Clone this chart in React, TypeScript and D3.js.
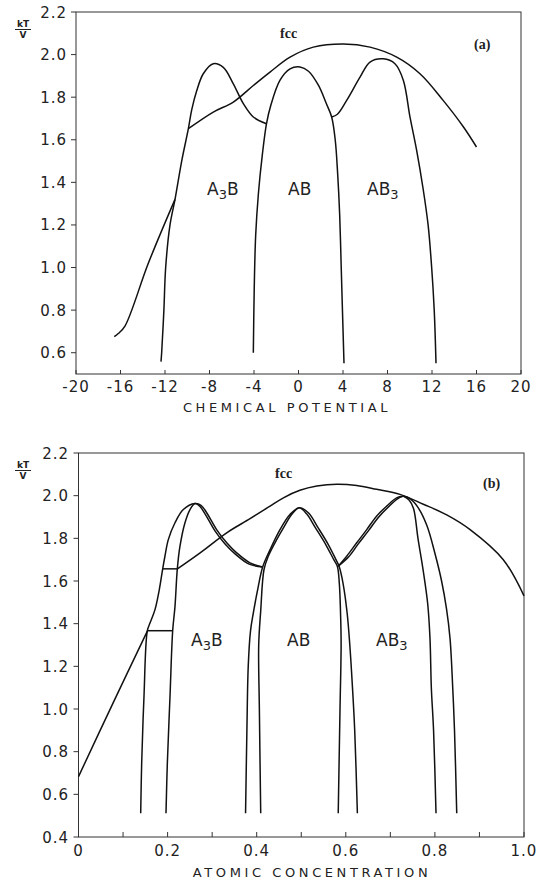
import React from 'react'
import * as d3 from 'd3'

// panel (a): kT/V against chemical potential
const muTicks = [-20, -16, -12, -8, -4, 0, 4, 8, 12, 16, 20]
const tTicksA = [0.6, 0.8, 1.0, 1.2, 1.4, 1.6, 1.8, 2.0, 2.2]

const fccLowA = [[-16.56, 0.675], [-16.2, 0.69], [-15.6, 0.725], [-13.5, 1.02], [-11.1, 1.32]]
const a3bA = [[-12.36, 0.558], [-12.3, 0.6], [-12.1, 0.8], [-11.94, 1.0], [-11.55, 1.2], [-11.1, 1.32],
  [-10.5, 1.5], [-9.9, 1.652], [-9.6, 1.74], [-9.15, 1.83], [-8.56, 1.91], [-7.66, 1.957], [-6.76, 1.94],
  [-5.86, 1.863], [-4.96, 1.77], [-4.06, 1.707], [-2.88, 1.675]]
const abA = [[-4.06, 0.6], [-3.98, 0.9], [-3.85, 1.15], [-3.6, 1.35], [-3.25, 1.53], [-2.88, 1.675],
  [-2.5, 1.76], [-1.66, 1.88], [-0.76, 1.933], [0.13, 1.942], [0.9, 1.922], [1.8, 1.855], [2.5, 1.77],
  [2.98, 1.707], [3.3, 1.6], [3.52, 1.44], [3.7, 1.25], [3.84, 1.0], [3.95, 0.8], [4.09, 0.55]]
const ab3A = [[2.98, 1.707], [3.5, 1.72], [4.33, 1.785], [5.53, 1.894], [6.43, 1.965], [7.62, 1.98],
  [8.67, 1.957], [9.42, 1.88], [10.02, 1.707], [10.62, 1.55], [11.2, 1.37], [11.65, 1.2],
  [11.97, 1.0], [12.2, 0.8], [12.36, 0.55]]
const fccTopA = [[-9.9, 1.652], [-7.66, 1.73], [-5.86, 1.777], [-4.06, 1.855], [-2.56, 1.918],
  [-0.76, 1.988], [1.33, 2.035], [4.03, 2.05], [6.43, 2.035], [8.83, 1.988], [10.92, 1.91],
  [13.0, 1.785], [14.83, 1.66], [16.0, 1.566]]

// panel (b): kT/V against atomic concentration
const cTicks = [0, 0.2, 0.4, 0.6, 0.8, 1.0]
const cMinor = [0.1, 0.3, 0.5, 0.7, 0.9]
const tTicksB = [0.4, 0.6, 0.8, 1.0, 1.2, 1.4, 1.6, 1.8, 2.0, 2.2]

const fccLowB = [[0, 0.683], [0.078, 1.03], [0.1545, 1.365]]
const a3bOuterB = [[0.1396, 0.511], [0.1418, 0.746], [0.147, 1.059], [0.1545, 1.367], [0.1605, 1.403],
  [0.1717, 1.466], [0.1814, 1.56], [0.189, 1.657], [0.194, 1.716], [0.2016, 1.794], [0.2166, 1.873],
  [0.2353, 1.935], [0.2615, 1.963], [0.275, 1.955], [0.2877, 1.92], [0.31, 1.841], [0.3327, 1.779],
  [0.355, 1.732], [0.385, 1.685], [0.4134, 1.666]]
const a3bInnerB = [[0.1964, 0.511], [0.1994, 0.746], [0.2054, 1.059], [0.2114, 1.367], [0.2166, 1.481],
  [0.2218, 1.657], [0.2278, 1.763], [0.239, 1.873], [0.2503, 1.935], [0.2615, 1.963], [0.272, 1.951],
  [0.284, 1.915], [0.306, 1.836], [0.329, 1.773], [0.352, 1.726], [0.383, 1.679], [0.4134, 1.666]]
const tieLow = [[0.1545, 1.367], [0.2114, 1.367]]
const tieHigh = [[0.189, 1.657], [0.2218, 1.657]]
const abOuterB = [[0.375, 0.511], [0.378, 0.9], [0.381, 1.2], [0.386, 1.364], [0.3924, 1.45],
  [0.4036, 1.575], [0.4134, 1.666], [0.43, 1.747], [0.4523, 1.841], [0.4747, 1.912], [0.4957, 1.943],
  [0.516, 1.92], [0.538, 1.849], [0.5607, 1.771], [0.578, 1.7], [0.585, 1.669], [0.594, 1.587],
  [0.603, 1.45], [0.609, 1.3], [0.615, 1.1], [0.62, 0.9], [0.626, 0.511]]
const abInnerB = [[0.409, 0.511], [0.406, 1.0], [0.4045, 1.3], [0.409, 1.46], [0.4164, 1.654],
  [0.426, 1.716], [0.441, 1.779], [0.46, 1.849], [0.4785, 1.912], [0.4957, 1.943], [0.512, 1.915],
  [0.532, 1.849], [0.555, 1.771], [0.573, 1.7], [0.581, 1.669], [0.5855, 1.587], [0.5886, 1.419],
  [0.5895, 1.3], [0.587, 1.0], [0.583, 0.511]]
const ab3LeftB = [[0.583, 1.669], [0.602, 1.716], [0.6245, 1.779], [0.647, 1.841], [0.669, 1.904],
  [0.6918, 1.951], [0.714, 1.99], [0.729, 1.998]]
const ab3LeftB2 = [[0.583, 1.669], [0.606, 1.712], [0.628, 1.774], [0.651, 1.836], [0.673, 1.898],
  [0.695, 1.946], [0.716, 1.985], [0.729, 1.998]]
const ab3OuterB = [[0.729, 1.998], [0.745, 1.985], [0.762, 1.945], [0.782, 1.86], [0.8, 1.73],
  [0.815, 1.6], [0.826, 1.47], [0.834, 1.33], [0.84, 1.1], [0.844, 0.9], [0.849, 0.511]]
const ab3InnerB = [[0.729, 1.998], [0.742, 1.98], [0.752, 1.94], [0.762, 1.8], [0.774, 1.645],
  [0.784, 1.49], [0.789, 1.33], [0.792, 1.1], [0.797, 0.9], [0.8025, 0.511]]
const fccTopB = [[0.222, 1.657], [0.273, 1.732], [0.3327, 1.826], [0.385, 1.892], [0.43, 1.951],
  [0.46, 1.99], [0.497, 2.025], [0.535, 2.045], [0.58, 2.054], [0.6245, 2.048], [0.669, 2.03],
  [0.7217, 2.006], [0.774, 1.96], [0.8265, 1.91], [0.879, 1.841], [0.9535, 1.7], [1.0, 1.53]]

const tickFont = { fontFamily: 'DejaVu Sans', fontSize: 15, letterSpacing: 1, fill: '#222' }
const axisFont = { fontFamily: 'DejaVu Sans', fontSize: 13, letterSpacing: 3.6, fill: '#222' }
const phaseFont = { fontFamily: 'DejaVu Sans', fontSize: 17, fill: '#222' }
const serif = { fontFamily: 'Liberation Serif', fontWeight: 'bold' as const, fontSize: 14, fill: '#222' }

function Phase ({ x, y, pre, sub, post }: { x: number, y: number, pre: string, sub?: string, post?: string }) {
  return (
    <text x={x} y={y} {...phaseFont}>
      {pre}
      {sub && <tspan dy={4} fontSize={13}>{sub}</tspan>}
      {post && <tspan dy={sub ? -4 : 0}>{post}</tspan>}
    </text>
  )
}

function KTV ({ y }: { y: number }) {
  return (
    <g fill='#222' fontFamily='DejaVu Sans' fontWeight='bold' fontSize={9} textAnchor='middle'>
      <text x={23} y={y}>kT</text>
      <line x1={15} x2={31} y1={y + 2.5} y2={y + 2.5} stroke='#222' strokeWidth={1} />
      <text x={23} y={y + 11}>V</text>
    </g>
  )
}

export default function App () {
  const xA = d3.scaleLinear().domain([-20, 20]).range([76, 521])
  const yA = d3.scaleLinear().domain([0.5, 2.2]).range([374, 12])
  const xB = d3.scaleLinear().domain([0, 1]).range([78.5, 524])
  const yB = d3.scaleLinear().domain([0.4, 2.2]).range([837, 453])

  const lineA = d3.line<number[]>().x(d => xA(d[0])).y(d => yA(d[1])).curve(d3.curveCatmullRom.alpha(0.5))
  const lineB = d3.line<number[]>().x(d => xB(d[0])).y(d => yB(d[1])).curve(d3.curveCatmullRom.alpha(0.5))
  const straightB = d3.line<number[]>().x(d => xB(d[0])).y(d => yB(d[1]))

  const curvesA = [fccLowA, a3bA, abA, ab3A, fccTopA]
  const curvesB = [fccLowB, a3bOuterB, a3bInnerB, abOuterB, abInnerB, ab3LeftB, ab3LeftB2, ab3OuterB, ab3InnerB, fccTopB]

  const curveStyle = { fill: 'none', stroke: '#111', strokeWidth: 1.5 }

  return (
    <svg width={538} height={883} style={{ position: 'absolute', left: 0, top: 0, background: '#fff' }}>
      {/* panel (a) */}
      <rect x={xA(-20)} y={yA(2.2)} width={xA(20) - xA(-20)} height={yA(0.5) - yA(2.2)}
        fill='none' stroke='#333' strokeWidth={1} />
      {tTicksA.map(t => (
        <g key={'ya' + t}>
          <line x1={xA(-20) - 5} x2={xA(-20)} y1={yA(t)} y2={yA(t)} stroke='#333' />
          <text x={67} y={yA(t) + 5.5} textAnchor='end' {...tickFont}>{t.toFixed(1)}</text>
        </g>
      ))}
      {muTicks.map(m => (
        <g key={'xa' + m}>
          <line x1={xA(m)} x2={xA(m)} y1={yA(0.5)} y2={yA(0.5) - 4} stroke='#333' />
          <text x={xA(m)} y={392} textAnchor='middle' {...tickFont}>{m}</text>
        </g>
      ))}
      <text x={287} y={412} textAnchor='middle' {...axisFont}>CHEMICAL POTENTIAL</text>
      <KTV y={27} />
      {curvesA.map((c, i) => <path key={'ca' + i} d={lineA(c) || ''} {...curveStyle} />)}
      <text x={280} y={38} {...serif}>fcc</text>
      <text x={474} y={49} {...serif}>(a)</text>
      <Phase x={207} y={195} pre='A' sub='3' post='B' />
      <Phase x={288} y={195} pre='AB' />
      <Phase x={367} y={195} pre='AB' sub='3' />

      {/* panel (b) */}
      <rect x={xB(0)} y={yB(2.2)} width={xB(1) - xB(0)} height={yB(0.4) - yB(2.2)}
        fill='none' stroke='#333' strokeWidth={1} />
      {tTicksB.map(t => (
        <g key={'yb' + t}>
          <line x1={xB(0) - 5} x2={xB(0)} y1={yB(t)} y2={yB(t)} stroke='#333' />
          <text x={69} y={yB(t) + 5.5} textAnchor='end' {...tickFont}>{t.toFixed(1)}</text>
        </g>
      ))}
      {cTicks.map(c => (
        <g key={'xb' + c}>
          <line x1={xB(c)} x2={xB(c)} y1={yB(0.4)} y2={yB(0.4) - 5} stroke='#333' />
          <text x={xB(c)} y={856} textAnchor='middle' {...tickFont}>{c === 0 ? '0' : c.toFixed(1)}</text>
        </g>
      ))}
      {cMinor.map(c => (
        <line key={'mb' + c} x1={xB(c)} x2={xB(c)} y1={yB(0.4)} y2={yB(0.4) - 5} stroke='#333' />
      ))}
      <text x={312} y={877} textAnchor='middle' {...axisFont}>ATOMIC CONCENTRATION</text>
      <KTV y={468} />
      {curvesB.map((c, i) => <path key={'cb' + i} d={lineB(c) || ''} {...curveStyle} />)}
      <path d={straightB(tieLow) || ''} {...curveStyle} />
      <path d={straightB(tieHigh) || ''} {...curveStyle} />
      <text x={275} y={478} {...serif}>fcc</text>
      <text x={483} y={488} {...serif}>(b)</text>
      <Phase x={191} y={646} pre='A' sub='3' post='B' />
      <Phase x={287} y={646} pre='AB' />
      <Phase x={376} y={646} pre='AB' sub='3' />
    </svg>
  )
}
